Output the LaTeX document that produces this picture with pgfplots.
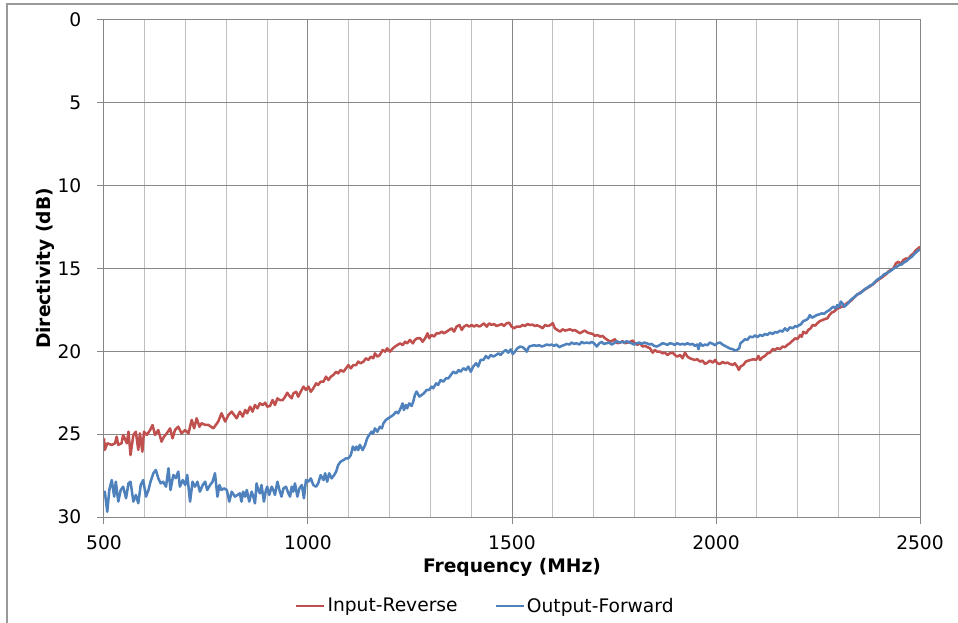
\documentclass[border=0pt]{standalone}
\usepackage{fontspec}
\setmainfont{DejaVu Sans}
\usepackage{pgfplots}
\pgfplotsset{compat=1.18}

\definecolor{inrev}{HTML}{C0504D}
\definecolor{outfwd}{HTML}{4F81BD}
\definecolor{gridmaj}{HTML}{878787}
\definecolor{gridmin}{HTML}{BFBFBF}

\begin{document}
\begin{tikzpicture}
% page size: 958x623 px at 0.75pt per px, axis box at (0,0)
\path[use as bounding box] (-78pt,-79.5pt) rectangle (640.5pt,387.75pt);
\draw[gray!80, line width=0.8pt] (-72.75pt,-100pt) -- (-72.75pt,384.75pt) -- (700pt,384.75pt);
\begin{axis}[
    width=612pt, height=372.75pt, scale only axis,
    at={(0,0)}, anchor=south west,
    xmin=500, xmax=2500, ymin=0, ymax=30,
    y dir=reverse,
    xtick={500,1000,...,2500},
    minor x tick num=4,
    ytick={0,5,...,30},
    grid=both,
    major grid style={gridmaj, line width=0.75pt},
    minor grid style={gridmin, line width=0.75pt},
    axis line style={gridmaj, line width=0.75pt},
    tick style={gridmaj, line width=0.75pt},
    tick align=outside,
    major tick length=5pt, minor tick length=0pt,
    xtick pos=bottom, ytick pos=left,
    tick label style={font=\fontsize{14}{17}\selectfont},
    xticklabel style={yshift=-5.5pt},
    yticklabel style={xshift=-8.5pt},
    /pgf/number format/assume math mode=true,
    /pgf/number format/1000 sep={},
    xlabel={Frequency (MHz)},
    ylabel={Directivity (dB)},
    label style={font=\fontsize{14}{17}\selectfont\bfseries},
    xlabel style={at={(axis description cs:0.5,-0.1006)}, anchor=center},
    ylabel style={at={(axis description cs:-0.0723,0.5)}, anchor=center},
    legend columns=2,
    legend style={at={(axis description cs:0.468,-0.179)}, anchor=center,
        draw=none, font=\fontsize{14}{17}\selectfont,
        /tikz/every even column/.append style={column sep=26pt}},
    legend image code/.code={\draw[#1, line width=1pt] (0pt,0pt) -- (21pt,0pt);},
]
\addplot[inrev, line width=1.9pt, line join=round] coordinates {
(500,25.25) (502,25.95) (508,25.55) (519,25.65) (527,25.55) (531,25.15) (535,25.65) (543,25.55) (547,25.05) (556,25.55) (560,24.85) (565,26.26) (572,25.05) (578,24.85) (584,25.95) (588,24.95) (594,26.06) (598,24.85) (605,25.05) (613,24.75) (619,24.45) (625,25.05) (633,24.75) (641,25.45) (647,25.15) (654,24.95) (662,24.65) (668,25.25) (674,24.75) (682,24.55) (690,24.95) (699,24.75) (707,24.95) (715,24.14) (721,24.65) (727,24.04) (734,24.55) (739,24.34) (748,24.44) (756,24.44) (768,24.65) (780,24.24) (788,23.74) (797,24.24) (805,23.84) (813,23.64) (825,24.04)
(833,23.64) (840,23.94) (846,23.54) (851,23.74) (858,23.34) (864,23.64) (870,23.24) (876,23.44) (882,23.14) (889,23.24) (895,23.10) (900,23.34) (907,23.30) (913,22.94) (919,23.24) (925,22.84) (931,22.94) (938,22.94) (944,22.74) (949,22.50) (956,22.74) (960,22.84) (964,22.54) (971,22.44) (976,22.74) (982,22.44) (989,22.13) (995,22.33) (1001,22.13) (1007,22.44) (1013,22.23) (1020,21.93) (1025,22.03) (1031,21.83) (1038,21.83) (1044,21.53) (1050,21.73) (1056,21.53) (1062,21.43) (1069,21.23) (1074,21.33) (1080,21.13) (1087,21.23) (1093,21.03) (1099,20.83) (1105,21.03) (1111,20.83) (1118,20.83) (1123,20.62) (1129,20.72) (1136,20.62) (1142,20.42) (1148,20.52) (1154,20.32) (1160,20.42) (1164,20.12) (1170,20.32)
(1176,20.22) (1183,19.92) (1189,20.02) (1194,19.82) (1201,20.02) (1208,19.82) (1213,19.72) (1219,19.62) (1226,19.52) (1232,19.62) (1238,19.42) (1243,19.52) (1250,19.31) (1257,19.52) (1262,19.31) (1268,19.21) (1275,19.21) (1281,19.42) (1287,19.21) (1293,18.91) (1297,19.21) (1303,19.01) (1309,19.11) (1315,18.91) (1322,18.91) (1328,18.81) (1333,18.91) (1340,18.81) (1346,18.71) (1352,18.61) (1358,18.81) (1364,18.51) (1371,18.41) (1377,18.71) (1382,18.51) (1389,18.41) (1395,18.51) (1401,18.41) (1407,18.51) (1413,18.41) (1420,18.51) (1426,18.41) (1431,18.31) (1438,18.51) (1444,18.31) (1450,18.41) (1456,18.35) (1462,18.47) (1469,18.41) (1475,18.35) (1480,18.47) (1487,18.31) (1493,18.27) (1499,18.51) (1505,18.61) (1511,18.51)
(1520,18.51) (1526,18.41) (1532,18.47) (1538,18.35) (1544,18.41) (1551,18.39) (1556,18.47) (1562,18.43) (1569,18.51) (1575,18.61) (1581,18.41) (1587,18.47) (1593,18.43) (1600,18.30) (1605,18.61) (1611,18.71) (1618,18.81) (1624,18.67) (1630,18.75) (1636,18.71) (1642,18.67) (1649,18.75) (1654,18.71) (1660,18.81) (1667,18.91) (1673,18.81) (1679,18.75) (1685,18.87) (1691,18.91) (1698,18.95) (1703,19.07) (1709,19.01) (1716,19.11) (1722,19.07) (1728,19.21) (1734,19.31) (1740,19.41) (1747,19.35) (1752,19.27) (1758,19.51) (1765,19.47) (1771,19.39) (1777,19.51) (1783,19.47) (1789,19.43) (1796,19.35) (1801,19.51) (1807,19.61) (1814,19.51) (1820,19.71) (1826,19.67) (1832,19.75) (1838,19.81) (1845,20.08) (1850,19.92) (1856,20.02)
(1863,20.02) (1869,20.12) (1875,20.08) (1881,20.22) (1887,20.12) (1894,20.08) (1899,20.22) (1905,20.32) (1912,20.22) (1918,20.42) (1924,20.08) (1930,20.32) (1936,20.42) (1943,20.48) (1948,20.52) (1954,20.48) (1961,20.62) (1967,20.56) (1973,20.76) (1979,20.68) (1985,20.56) (1992,20.68) (1998,20.52) (2003,20.72) (2010,20.76) (2016,20.64) (2022,20.72) (2028,20.68) (2034,20.76) (2041,20.82) (2046,20.72) (2052,20.92) (2056,21.12) (2060,20.92) (2067,20.82) (2073,20.62) (2079,20.56) (2085,20.52) (2091,20.48) (2098,20.52) (2104,20.28) (2108,20.52) (2114,20.36) (2120,20.28) (2126,20.12) (2132,20.08) (2139,19.87) (2145,19.91) (2150,19.81) (2157,19.87) (2163,19.71) (2169,19.75) (2175,19.61) (2181,19.51) (2188,19.35) (2194,19.21) (2199,19.27) (2204,19.11)
(2206,19.02) (2210,19.12) (2214,18.82) (2221,18.92) (2226,18.71) (2232,18.61) (2237,18.41) (2243,18.45) (2248,18.31) (2255,18.17) (2261,18.11) (2267,18.05) (2273,18.01) (2278,17.81) (2284,17.65) (2289,17.61) (2296,17.45) (2302,17.37) (2308,17.31) (2314,17.25) (2320,17.10) (2327,17.00) (2333,16.90) (2338,16.76) (2345,16.60) (2351,16.50) (2357,16.40) (2363,16.30) (2369,16.20) (2376,16.10) (2382,16.00) (2387,15.90) (2394,15.76) (2400,15.64) (2406,15.56) (2412,15.43) (2417,15.35) (2422,15.19) (2428,15.09) (2435,14.99) (2441,14.69) (2447,14.59) (2453,14.75) (2459,14.49) (2466,14.39) (2471,14.43) (2477,14.23) (2484,14.09) (2490,13.89) (2496,13.78) (2500,13.68)
};
\addlegendentry{Input-Reverse}
\addplot[outfwd, line width=1.9pt, line join=round] coordinates {
(500,28.57) (502,28.47) (508,29.68) (513,28.37) (519,27.77) (525,28.77) (529,27.87) (535,29.07) (541,28.37) (547,28.17) (554,28.87) (560,27.97) (565,27.87) (572,29.07) (578,28.67) (584,29.17) (590,28.07) (596,27.77) (603,28.77) (609,28.37) (614,27.87) (621,27.36) (627,27.16) (633,27.66) (639,27.97) (645,27.87) (652,28.17) (658,27.06) (663,28.37) (670,27.46) (676,27.66) (682,27.26) (686,28.17) (693,27.77) (699,28.07) (704,27.46) (711,29.07) (717,27.87) (723,28.17) (729,27.87) (735,28.47) (742,28.07) (748,27.87) (753,28.37) (760,28.07) (766,27.87) (772,27.36) (778,28.77) (783,28.07) (788,28.37) (794,28.27) (801,28.37) (807,29.07) (813,28.47) (821,28.77) (827,28.67)
(833,28.57) (837,29.07) (841,28.47) (846,28.77) (850,28.37) (856,29.07) (862,28.47) (866,28.77) (870,29.18) (874,27.97) (878,28.37) (882,28.57) (886,28.07) (892,29.07) (897,28.37) (900,28.17) (905,28.67) (911,28.17) (915,28.37) (919,28.67) (925,27.87) (930,28.37) (935,28.77) (940,28.27) (946,28.17) (952,28.57) (956,28.77) (960,28.17) (964,28.47) (968,27.97) (974,28.77) (979,28.27) (985,28.07) (990,28.87) (995,27.77) (1001,27.87) (1007,27.67) (1013,28.07) (1020,28.17) (1025,27.97) (1031,27.47) (1038,27.77) (1042,27.36) (1047,27.87) (1052,27.36) (1058,27.67) (1064,27.47) (1069,27.26) (1074,26.86) (1080,26.66) (1087,26.56) (1093,26.46) (1099,26.46) (1105,26.26) (1110,25.75) (1115,25.96) (1119,25.75) (1123,25.96) (1127,25.65) (1134,25.96) (1140,25.65) (1145,25.25) (1150,25.05) (1156,24.85) (1160,24.95) (1164,24.65) (1170,24.85)
(1176,24.55) (1181,24.65) (1185,24.34) (1191,24.14) (1197,24.04) (1203,23.94) (1209,23.84) (1216,23.64) (1221,23.74) (1227,23.44) (1232,23.14) (1235,23.54) (1240,23.24) (1243,23.44) (1248,23.14) (1254,23.30) (1258,23.04) (1262,22.63) (1266,22.43) (1273,22.73) (1279,22.63) (1284,22.53) (1291,22.33) (1297,22.33) (1303,22.13) (1307,22.23) (1314,21.93) (1319,22.03) (1325,21.73) (1332,21.83) (1338,21.63) (1344,21.63) (1350,21.43) (1356,21.23) (1363,21.33) (1369,21.13) (1374,21.23) (1381,21.02) (1387,21.13) (1393,20.92) (1399,21.23) (1405,20.92) (1412,20.72) (1417,20.92) (1423,20.52) (1430,20.52) (1436,20.28) (1442,20.42) (1448,20.22) (1454,20.32) (1461,20.22) (1467,20.12) (1472,20.22) (1479,20.02) (1485,19.92) (1491,20.08) (1497,19.88) (1502,20.16) (1507,20.02) (1513,19.82)
(1520,19.71) (1526,19.75) (1532,19.87) (1536,20.02) (1542,19.71) (1548,19.67) (1554,19.63) (1560,19.67) (1567,19.63) (1573,19.71) (1578,19.67) (1585,19.59) (1592,19.63) (1597,19.59) (1603,19.67) (1609,19.59) (1616,19.75) (1622,19.67) (1627,19.63) (1634,19.55) (1641,19.59) (1646,19.47) (1652,19.55) (1658,19.51) (1665,19.59) (1671,19.43) (1676,19.51) (1683,19.47) (1690,19.51) (1695,19.43) (1701,19.51) (1708,19.71) (1714,19.51) (1720,19.43) (1725,19.55) (1732,19.51) (1739,19.47) (1744,19.59) (1750,19.51) (1757,19.39) (1763,19.47) (1769,19.43) (1775,19.47) (1781,19.39) (1788,19.47) (1793,19.51) (1799,19.59) (1806,19.51) (1812,19.47) (1818,19.55) (1824,19.47) (1830,19.51) (1837,19.59) (1842,19.55) (1848,19.67) (1855,19.71)
(1863,19.61) (1869,19.51) (1875,19.55) (1881,19.61) (1887,19.51) (1894,19.55) (1899,19.61) (1905,19.51) (1912,19.59) (1918,19.55) (1924,19.59) (1930,19.51) (1936,19.59) (1943,19.55) (1948,19.67) (1954,19.59) (1957,19.87) (1961,19.51) (1967,19.67) (1973,19.59) (1979,19.63) (1985,19.47) (1992,19.55) (1998,19.63) (2003,19.51) (2010,19.47) (2016,19.59) (2022,19.67) (2028,19.75) (2034,19.83) (2041,19.87) (2046,19.95) (2052,19.91) (2057,19.81) (2060,19.51) (2065,19.41) (2071,19.27) (2077,19.31) (2083,19.11) (2090,19.15) (2096,19.03) (2101,19.15) (2108,19.01) (2114,19.07) (2120,18.95) (2126,19.01) (2132,18.87) (2139,18.95) (2145,18.83) (2150,18.87) (2157,18.75) (2163,18.81) (2169,18.61) (2175,18.75) (2181,18.55) (2188,18.61) (2194,18.47) (2199,18.51) (2204,18.41)
(2206,18.41) (2210,18.31) (2214,18.17) (2221,18.11) (2226,18.01) (2230,17.81) (2235,17.97) (2240,17.91) (2247,17.81) (2253,17.77) (2259,17.71) (2265,17.73) (2271,17.61) (2278,17.51) (2284,17.37) (2288,17.31) (2294,17.41) (2297,17.21) (2302,17.31) (2306,17.00) (2310,17.10) (2314,17.31) (2319,17.21) (2324,17.10) (2330,16.90) (2335,16.80) (2341,16.70) (2346,16.56) (2353,16.50) (2360,16.36) (2365,16.24) (2371,16.16) (2377,16.04) (2384,15.96) (2390,15.80) (2394,15.70) (2400,15.60) (2406,15.50) (2412,15.35) (2418,15.29) (2425,15.19) (2431,15.09) (2436,14.99) (2443,14.89) (2449,14.79) (2455,14.75) (2461,14.63) (2467,14.55) (2474,14.39) (2480,14.29) (2485,14.15) (2492,13.99) (2496,13.89) (2500,13.89)
};
\addlegendentry{Output-Forward}
\end{axis}
\end{tikzpicture}
\end{document}
